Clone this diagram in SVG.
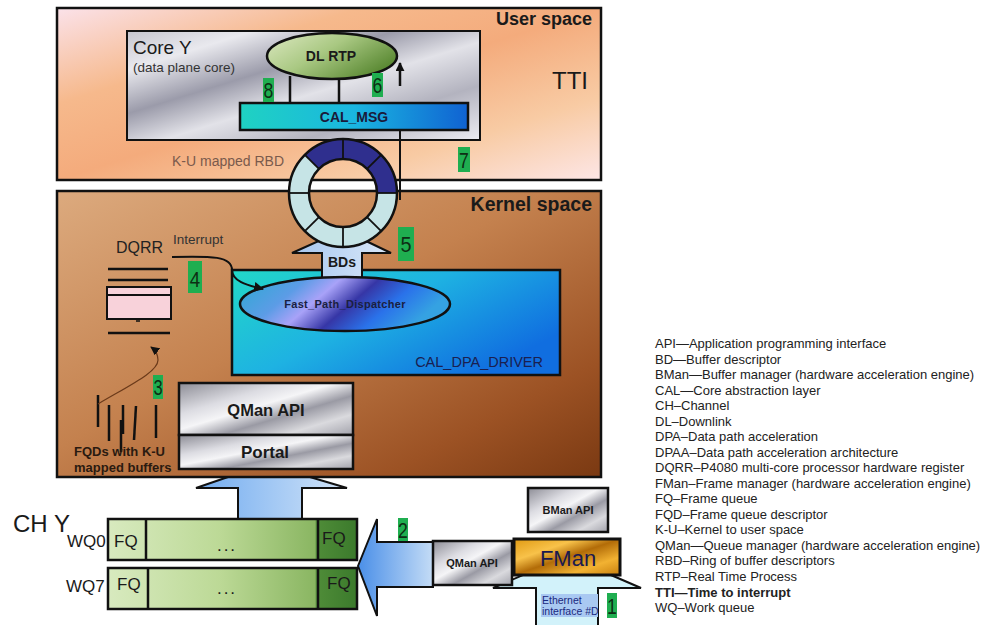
<svg xmlns="http://www.w3.org/2000/svg" width="985" height="625" viewBox="0 0 985 625">
  <style>
    text { font-family: "Liberation Sans", Arial, sans-serif; fill: #1a1a1a; }
    .b { font-weight: bold; }
    .frame { stroke: #111; stroke-width: 2.5; }
    .thin { stroke: #111; stroke-width: 2; }
    .line { stroke: #111; stroke-width: 2.5; fill: none; }
    .tag { fill: #1fae50; }
    .num { fill: #0d2e14; font-size: 22px; }
    .legend text { font-size: 13px; fill: #222; }
  </style>
  <defs>
    <linearGradient id="gUser" x1="0" y1="0" x2="1" y2="1">
      <stop offset="0" stop-color="#fbe2ea"/>
      <stop offset="0.28" stop-color="#f6b98c"/>
      <stop offset="0.5" stop-color="#f4ab7c"/>
      <stop offset="0.76" stop-color="#f8cba4"/>
      <stop offset="1" stop-color="#fde6e6"/>
    </linearGradient>
    <linearGradient id="gKernel" x1="0" y1="0" x2="1" y2="1">
      <stop offset="0" stop-color="#dcaa7e"/>
      <stop offset="0.45" stop-color="#c4814e"/>
      <stop offset="0.8" stop-color="#9c5224"/>
      <stop offset="1" stop-color="#7a3912"/>
    </linearGradient>
    <linearGradient id="gCore" x1="0" y1="0" x2="1" y2="1">
      <stop offset="0" stop-color="#c6c6cf"/>
      <stop offset="0.18" stop-color="#e9e9ee"/>
      <stop offset="0.38" stop-color="#9b9baa"/>
      <stop offset="0.55" stop-color="#e2e2e8"/>
      <stop offset="0.75" stop-color="#b3b3bf"/>
      <stop offset="1" stop-color="#ececf2"/>
    </linearGradient>
    <linearGradient id="gMetal" x1="0" y1="0" x2="1" y2="1">
      <stop offset="0" stop-color="#8c8c95"/>
      <stop offset="0.3" stop-color="#dcdce2"/>
      <stop offset="0.45" stop-color="#f5f5f7"/>
      <stop offset="0.62" stop-color="#9a9aa4"/>
      <stop offset="0.8" stop-color="#dadade"/>
      <stop offset="1" stop-color="#a2a2ab"/>
    </linearGradient>
    <linearGradient id="gDl" x1="0" y1="0" x2="1" y2="0.6">
      <stop offset="0" stop-color="#dde9c2"/>
      <stop offset="0.5" stop-color="#a9c882"/>
      <stop offset="1" stop-color="#5b8a34"/>
    </linearGradient>
    <linearGradient id="gMsg" x1="0" y1="0" x2="1" y2="0">
      <stop offset="0" stop-color="#1fd2c2"/>
      <stop offset="0.5" stop-color="#1ab6e0"/>
      <stop offset="1" stop-color="#1062d2"/>
    </linearGradient>
    <linearGradient id="gDpa" x1="0" y1="0" x2="1" y2="0.6">
      <stop offset="0" stop-color="#22d8c8"/>
      <stop offset="0.5" stop-color="#1eb2e2"/>
      <stop offset="1" stop-color="#106ee0"/>
    </linearGradient>
    <linearGradient id="gFpd" x1="0" y1="0" x2="1" y2="0.3">
      <stop offset="0" stop-color="#2aaad2"/>
      <stop offset="0.3" stop-color="#5c9ce6"/>
      <stop offset="0.45" stop-color="#a8a2f8"/>
      <stop offset="0.62" stop-color="#3636a6"/>
      <stop offset="0.8" stop-color="#2a72ea"/>
      <stop offset="1" stop-color="#35a2e2"/>
    </linearGradient>
    <linearGradient id="gWq" x1="0" y1="0" x2="1" y2="0">
      <stop offset="0" stop-color="#d8eabf"/>
      <stop offset="0.45" stop-color="#bcd996"/>
      <stop offset="0.83" stop-color="#8ab662"/>
      <stop offset="0.84" stop-color="#4f8c38"/>
      <stop offset="1" stop-color="#3b7a2c"/>
    </linearGradient>
    <linearGradient id="gFman" x1="0" y1="0" x2="1" y2="1">
      <stop offset="0" stop-color="#e09a12"/>
      <stop offset="0.3" stop-color="#f8c24a"/>
      <stop offset="0.5" stop-color="#b26c08"/>
      <stop offset="0.75" stop-color="#f2b232"/>
      <stop offset="1" stop-color="#c8800e"/>
    </linearGradient>
    <linearGradient id="gUp" x1="0" y1="0" x2="1" y2="0">
      <stop offset="0" stop-color="#72acf0"/>
      <stop offset="1" stop-color="#d2e4f8"/>
    </linearGradient>
    <linearGradient id="gLeft" x1="0" y1="0" x2="1" y2="0">
      <stop offset="0" stop-color="#4a8fe8"/>
      <stop offset="1" stop-color="#c4dcf6"/>
    </linearGradient>
    <linearGradient id="gBds" x1="0" y1="0" x2="1" y2="0">
      <stop offset="0" stop-color="#a6c6f0"/>
      <stop offset="1" stop-color="#dae8f8"/>
    </linearGradient>
    <marker id="ah" viewBox="0 0 10 10" refX="9" refY="5" markerWidth="9" markerHeight="9" markerUnits="userSpaceOnUse" orient="auto">
      <path d="M0,0 L10,5 L0,10 Z" fill="#111"/>
    </marker>
    <marker id="ahs" viewBox="0 0 10 10" refX="9" refY="5" markerWidth="10" markerHeight="10" markerUnits="userSpaceOnUse" orient="auto">
      <path d="M0,0 L10,5 L0,10 Z" fill="#111"/>
    </marker>
  </defs>

  <rect width="985" height="625" fill="#fff"/>

  <!-- block arrows that sit behind the boxes -->
  <g id="arrow-portal">
    <path d="M266,464 L347,488 L302,488 L302,519 L238,519 L238,488 L196,488 Z" fill="url(#gUp)" class="thin"/>
  </g>
  <g id="arrow-ethernet">
    <path d="M567,556 L641,588 L598,588 L598,630 L536,630 L536,588 L493,588 Z" fill="#d2f2fa" class="thin"/>
  </g>

  <!-- user space -->
  <g id="user-space">
    <rect x="57" y="8" width="544" height="172" fill="url(#gUser)" class="frame"/>
    <text x="592" y="25" text-anchor="end" class="b" font-size="18">User space</text>
    <text x="552" y="89" font-size="24">TTI</text>
    <text x="172" y="166" font-size="14" style="fill:#7a5a4c">K-U mapped RBD</text>
  </g>

  <!-- kernel space -->
  <g id="kernel-space">
    <rect x="57" y="191" width="544" height="286" fill="url(#gKernel)" class="frame"/>
    <text x="592" y="211" text-anchor="end" class="b" font-size="19.5">Kernel space</text>
  </g>

  <g id="core-y">
    <rect x="127" y="31" width="353" height="109" fill="url(#gCore)" class="thin"/>
    <text x="133" y="54" font-size="19">Core Y</text>
    <text x="133" y="72" font-size="13.5" style="fill:#333">(data plane core)</text>
  </g>

  <g id="dl-rtp">
    <ellipse cx="332" cy="56" rx="65" ry="23" fill="url(#gDl)" class="frame"/>
    <text x="331" y="61" text-anchor="middle" class="b" font-size="14">DL RTP</text>
  </g>

  <g id="cal-msg">
    <rect x="240" y="103" width="228" height="27" fill="url(#gMsg)" class="frame"/>
    <text x="354" y="122" text-anchor="middle" class="b" font-size="14" style="fill:#1a1a3a">CAL_MSG</text>
  </g>

  <g id="cal-dpa-driver">
    <rect x="232" y="270" width="328" height="105" fill="url(#gDpa)" class="frame"/>
    <text x="543" y="367" text-anchor="end" font-size="14.5" style="fill:#1a2050">CAL_DPA_DRIVER</text>
  </g>

  <g id="bds">
    <path d="M343,230 L391,253 L362,253 L362,285 L322,285 L322,253 L292,253 Z" fill="url(#gBds)" class="thin"/>
    <text x="342" y="267" text-anchor="middle" class="b" font-size="14">BDs</text>
  </g>

  <g id="fast-path-dispatcher">
    <ellipse cx="345" cy="304" rx="105" ry="27" fill="url(#gFpd)" class="frame"/>
    <text x="345" y="308" text-anchor="middle" class="b" font-size="11" letter-spacing="0.3" style="fill:#1a2040">Fast_Path_Dispatcher</text>
  </g>

  <!-- ring of buffer descriptors -->
  <g id="rbd-ring">
    <path d="M397,193 A54,54 0 1 1 289,193 A54,54 0 1 1 397,193 Z M377,193 A34,34 0 1 0 309,193 A34,34 0 1 0 377,193 Z" fill="#c6e4e6" fill-rule="evenodd"/>
    <path d="M304.82,154.82 A54,54 0 0 1 397,193 L377,193 A34,34 0 0 0 318.96,168.96 Z" fill="#2f2f8e"/>
    <g stroke="#111" stroke-width="1.8">
      <line x1="377" y1="193" x2="397" y2="193"/>
      <line x1="367.04" y1="217.04" x2="381.18" y2="231.18"/>
      <line x1="343" y1="227" x2="343" y2="247"/>
      <line x1="318.96" y1="217.04" x2="304.82" y2="231.18"/>
      <line x1="309" y1="193" x2="289" y2="193"/>
      <line x1="318.96" y1="168.96" x2="304.82" y2="154.82"/>
      <line x1="343" y1="159" x2="343" y2="139"/>
      <line x1="367.04" y1="168.96" x2="381.18" y2="154.82"/>
    </g>
    <circle cx="343" cy="193" r="54" fill="none" stroke="#111" stroke-width="2.5"/>
    <circle cx="343" cy="193" r="34" fill="none" stroke="#111" stroke-width="2.5"/>
  </g>

  <g id="dqrr">
    <text x="116" y="253" font-size="16" style="fill:#222">DQRR</text>
    <g class="line">
      <line x1="108" y1="269" x2="168" y2="269"/>
      <line x1="108" y1="280" x2="168" y2="280"/>
      <line x1="108" y1="333" x2="170" y2="333"/>
    </g>
    <rect x="107" y="287" width="64" height="32" fill="#f8d2da" class="thin"/>
    <line x1="107" y1="295" x2="171" y2="295" stroke="#111" stroke-width="1.8"/>
    <line x1="136" y1="321" x2="140" y2="321" stroke="#111" stroke-width="1.5"/>
  </g>

  <g id="fqds">
    <g class="line">
      <line x1="98" y1="395" x2="98" y2="427"/>
      <line x1="109" y1="405" x2="109" y2="441"/>
      <line x1="123" y1="405" x2="123" y2="434"/>
      <line x1="121" y1="420" x2="121" y2="452"/>
      <line x1="136" y1="406" x2="134" y2="440"/>
      <line x1="156" y1="405" x2="156" y2="438"/>
    </g>
    <text x="74" y="456" class="b" font-size="13" style="fill:#2a1a10">FQDs with K-U</text>
    <text x="74" y="472" class="b" font-size="13" style="fill:#2a1a10">mapped buffers</text>
  </g>

  <g id="qman-portal">
    <rect x="179" y="383" width="174" height="52" fill="url(#gMetal)" class="frame"/>
    <rect x="179" y="435" width="174" height="34" fill="url(#gMetal)" class="frame"/>
    <text x="266" y="416" text-anchor="middle" class="b" font-size="16.5">QMan API</text>
    <text x="265" y="458" text-anchor="middle" class="b" font-size="17">Portal</text>
  </g>

  <!-- channel Y work queues -->
  <g id="channel-y">
    <text x="13" y="532" font-size="24">CH Y</text>
    <text x="67" y="547" font-size="17">WQ0</text>
    <text x="66" y="592" font-size="17">WQ7</text>
  </g>
  <g id="wq0">
    <rect x="108" y="519" width="249" height="41" fill="url(#gWq)" class="frame"/>
    <line x1="146" y1="519" x2="146" y2="560" class="line"/>
    <line x1="318" y1="519" x2="318" y2="560" class="line"/>
    <text x="114" y="547" font-size="17">FQ</text>
    <text x="322" y="544" font-size="17">FQ</text>
    <text x="227" y="551" text-anchor="middle" font-size="17" letter-spacing="2">...</text>
  </g>
  <g id="wq7">
    <rect x="108" y="568" width="249" height="41" fill="url(#gWq)" class="frame"/>
    <line x1="148" y1="568" x2="148" y2="609" class="line"/>
    <line x1="318" y1="568" x2="318" y2="609" class="line"/>
    <text x="117" y="590" font-size="17">FQ</text>
    <text x="327" y="589" font-size="17">FQ</text>
    <text x="227" y="594" text-anchor="middle" font-size="17" letter-spacing="2">...</text>
  </g>

  <g id="arrow-enqueue">
    <path d="M358,566 L377,519 L377,542 L433,542 L433,587 L377,587 L377,616 Z" fill="url(#gLeft)" class="thin"/>
  </g>

  <g id="qman-api-hw">
    <rect x="433" y="541" width="79" height="44" fill="url(#gMetal)" class="frame"/>
    <text x="472" y="567" text-anchor="middle" class="b" font-size="11">QMan API</text>
  </g>

  <g id="bman-api">
    <rect x="528" y="488" width="80" height="44" fill="url(#gMetal)" class="frame"/>
    <text x="568" y="514" text-anchor="middle" class="b" font-size="11">BMan API</text>
  </g>

  <g id="fman">
    <rect x="514" y="539" width="106" height="36" fill="url(#gFman)" stroke="#111" stroke-width="3"/>
    <text x="568" y="566" text-anchor="middle" font-size="22" style="fill:#1a1a50">FMan</text>
  </g>

  <g id="ethernet">
    <rect x="541" y="594" width="57" height="23" fill="#a9c9f2"/>
    <text x="542" y="604" font-size="10.5" style="fill:#1a2a80">Ethernet</text>
    <text x="542" y="615" font-size="10.5" style="fill:#1a2a80">interface #D</text>
  </g>

  <!-- connectors -->
  <g id="connectors">
    <line x1="290" y1="76" x2="290" y2="103" class="line"/>
    <line x1="339" y1="79" x2="339" y2="103" class="line"/>
    <line x1="400" y1="86" x2="400" y2="63" class="line" marker-end="url(#ah)"/>
    <line x1="400" y1="130" x2="400" y2="200" stroke="#111" stroke-width="2"/>
    <path d="M172,257 C212,256 232,256 232,270 C232,281 246,285 263,289" fill="none" stroke="#111" stroke-width="2" marker-end="url(#ahs)"/>
    <path d="M98,404 C130,385 158,372 158,360 C158,354 155,350 151,347" fill="none" stroke="#6b3a1a" stroke-width="1.2" marker-end="url(#ah)"/>
    <text x="173" y="244" font-size="13.5" style="fill:#333">Interrupt</text>
  </g>

  <!-- step numbers -->
  <g id="steps">
    <rect x="607" y="593" width="10" height="25" class="tag"/>
    <text transform="translate(612,614) scale(0.8,1)" text-anchor="middle" class="num">1</text>
    <rect x="398" y="518" width="10" height="23" class="tag"/>
    <text transform="translate(403,538) scale(0.8,1)" text-anchor="middle" class="num" font-size="21">2</text>
    <rect x="153" y="375" width="10" height="24" class="tag"/>
    <text transform="translate(158,395) scale(0.75,1)" text-anchor="middle" class="num">3</text>
    <rect x="188" y="261" width="14" height="32" class="tag"/>
    <text transform="translate(195,287) scale(0.85,1)" text-anchor="middle" class="num" font-size="25">4</text>
    <rect x="398" y="227" width="16" height="34" class="tag"/>
    <text transform="translate(406,252) scale(0.9,1)" text-anchor="middle" class="num" font-size="23">5</text>
    <rect x="372" y="73" width="11" height="24" class="tag"/>
    <text transform="translate(377.5,93) scale(0.8,1)" text-anchor="middle" class="num">6</text>
    <rect x="458" y="147" width="12" height="25" class="tag"/>
    <text transform="translate(464,168) scale(0.8,1)" text-anchor="middle" class="num">7</text>
    <rect x="263" y="78" width="11" height="24" class="tag"/>
    <text transform="translate(268.5,98) scale(0.8,1)" text-anchor="middle" class="num">8</text>
  </g>

  <!-- abbreviations -->
  <g class="legend" id="legend">
    <text x="655" y="348">API—Application programming interface</text>
    <text x="655" y="363.5">BD—Buffer descriptor</text>
    <text x="655" y="379">BMan—Buffer manager (hardware acceleration engine)</text>
    <text x="655" y="394.6">CAL—Core abstraction layer</text>
    <text x="655" y="410.1">CH–Channel</text>
    <text x="655" y="425.7">DL–Downlink</text>
    <text x="655" y="441.2">DPA–Data path acceleration</text>
    <text x="655" y="456.7">DPAA–Data path acceleration architecture</text>
    <text x="655" y="472.2">DQRR–P4080 multi-core processor hardware register</text>
    <text x="655" y="487.8">FMan–Frame manager (hardware acceleration engine)</text>
    <text x="655" y="503.3">FQ–Frame queue</text>
    <text x="655" y="518.8">FQD–Frame queue descriptor</text>
    <text x="655" y="534.4">K-U–Kernel to user space</text>
    <text x="655" y="549.9">QMan—Queue manager (hardware acceleration engine)</text>
    <text x="655" y="565.4">RBD–Ring of buffer descriptors</text>
    <text x="655" y="581">RTP–Real Time Process</text>
    <text x="655" y="596.5" class="b">TTI—Time to interrupt</text>
    <text x="655" y="612">WQ–Work queue</text>
  </g>
</svg>
